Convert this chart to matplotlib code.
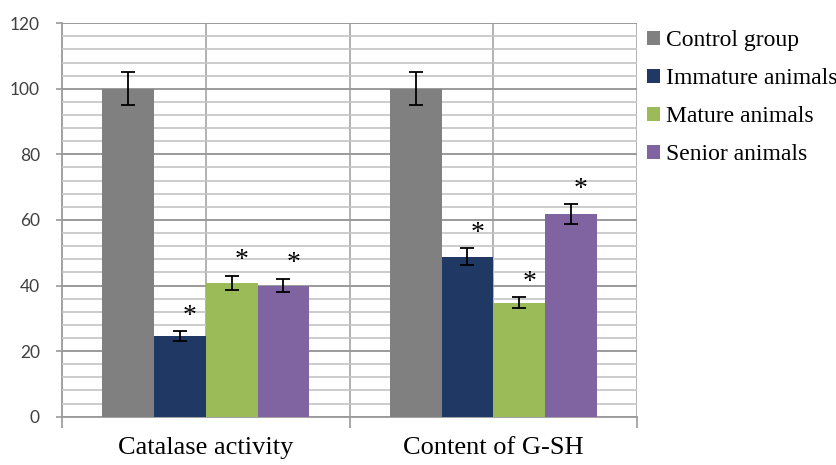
import numpy as np
import matplotlib.pyplot as plt
from matplotlib.patches import Patch

# data
categories = ['Catalase activity', 'Content of G-SH']
groups = ['Control group', 'Immature animals', 'Mature animals', 'Senior animals']
values = [
    [100, 24.6, 40.8, 40.0],
    [100, 48.8, 34.7, 61.8],
]
errors = [
    [5.0, 1.4, 2.1, 2.0],
    [5.0, 2.5, 1.7, 3.0],
]
significant = [
    [False, True, True, True],
    [False, True, True, True],
]
colors = ['#808080', '#1F3864', '#9BBB59', '#8064A2']

fig = plt.figure(figsize=(8.37, 4.65), dpi=100)
ax = fig.add_axes([0.0741, 0.104, 0.687, 0.846])

x = np.arange(len(categories))
w = 0.18
vals = np.array(values)
errs = np.array(errors)

for i, g in enumerate(groups):
    xs = x + (i - 1.5) * w
    ax.bar(xs, vals[:, i], width=w, color=colors[i], zorder=3, label=g)
    ax.errorbar(xs, vals[:, i], yerr=errs[:, i], fmt='none', ecolor='black',
                elinewidth=1.3, capsize=5, capthick=1.3, zorder=4)
    for j in range(len(categories)):
        if significant[j][i]:
            ax.text(xs[j] + 0.035, vals[j, i] + errs[j, i] + 0.8, '*',
                    ha='center', va='bottom', fontsize=20,
                    family='Liberation Serif', zorder=5)

ax.set_xlim(-0.5, 1.5)
ax.set_ylim(0, 120)

# horizontal grid: major every 20, minor every 4
ax.set_yticks(np.arange(0, 121, 20))
ax.set_yticks(np.arange(0, 121, 4), minor=True)
ax.grid(axis='y', which='major', color='#9A9A9A', linewidth=1.4, zorder=0)
ax.grid(axis='y', which='minor', color='#C4C4C4', linewidth=1.2, zorder=0)
ax.tick_params(axis='y', which='minor', length=0)
ax.tick_params(axis='y', which='major', length=4, width=1.2, color='#9A9A9A',
               labelsize=12.5, labelcolor='#404040', pad=12)
for lbl in ax.get_yticklabels():
    lbl.set_family('Lato')

# vertical lines at category centres and boundaries
for xv in [0, 0.5, 1, 1.5]:
    ax.axvline(xv, color='#ABABAB', linewidth=1.3, zorder=0)

ax.set_xticks(x)
ax.set_xticklabels(categories, family='Liberation Serif', fontsize=19)
ax.tick_params(axis='x', length=0, pad=15)
ax.set_xticks([-0.5, 0.5, 1.5], minor=True)
ax.tick_params(axis='x', which='minor', length=8, width=1.2, color='#9A9A9A', direction='out')

for s in ['top', 'right']:
    ax.spines[s].set_visible(False)
ax.spines['left'].set_color('#9A9A9A')
ax.spines['left'].set_linewidth(1.3)
ax.spines['bottom'].set_color('#9A9A9A')
ax.spines['bottom'].set_linewidth(1.3)
ax.spines['left'].set_zorder(1)
ax.spines['bottom'].set_zorder(1)

handles = [Patch(facecolor=c, edgecolor='none') for c in colors]
leg = fig.legend(handles, groups, loc='upper left', bbox_to_anchor=(0.762, 0.955),
                 frameon=False, prop={'family': 'Liberation Serif', 'size': 17},
                 handlelength=0.55, handleheight=0.55, handletextpad=0.25,
                 labelspacing=0.72, borderaxespad=0)

fig.savefig('out.png', dpi=100)
